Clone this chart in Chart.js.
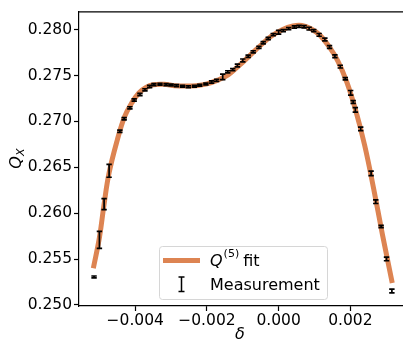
<!DOCTYPE html>
<html lang="en">
<head>
<meta charset="UTF-8">
<title>Q_X fit</title>
<script src="https://cdn.jsdelivr.net/npm/chart.js"></script>
<style>
  html, body { margin: 0; padding: 0; background: #fff; }
  #wrap { width: 403px; height: 344px; }
</style>
</head>
<body>
<div id="wrap"><canvas id="chart"></canvas></div>
<script>
// fit curve
const fitDelta = [-0.00517, -0.00500, -0.00487, -0.00473, -0.00450, -0.00430, -0.00410, -0.00390,
  -0.00370, -0.00350, -0.00320, -0.00290, -0.00260, -0.00230, -0.00200, -0.00170, -0.00140,
  -0.00110, -0.00080, -0.00050, -0.00020, 0.00010, 0.00040, 0.00065, 0.00090, 0.00115, 0.00140,
  0.00165, 0.00190, 0.00215, 0.00240, 0.00265, 0.00290, 0.00317];
const fitQ = [0.2540, 0.25735, 0.2610, 0.2644, 0.2680, 0.2705, 0.2720, 0.2731,
  0.2737, 0.2740, 0.27405, 0.2739, 0.27385, 0.2739, 0.2741, 0.2745, 0.2751,
  0.2761, 0.2772, 0.2783, 0.2793, 0.2800, 0.2804, 0.28045, 0.2801, 0.2794, 0.2782,
  0.2766, 0.2743, 0.2712, 0.2674, 0.2627, 0.2576, 0.2524];

// measurements with error bars
const measDelta = [-0.00515, -0.00500, -0.00487, -0.00473, -0.00443, -0.00431, -0.00415, -0.00403,
  -0.00387, -0.00373, -0.00360, -0.00348, -0.00331, -0.00314, -0.00300, -0.00285, -0.00268,
  -0.00252, -0.00235, -0.00220, -0.00203, -0.00187, -0.00173, -0.00156, -0.00142, -0.00128,
  -0.00115, -0.00100, -0.00085, -0.00071, -0.00055, -0.00043, -0.00029, -0.00015, 0.00000,
  0.00013, 0.00028, 0.00044, 0.00057, 0.00071, 0.00085, 0.00098, 0.00113, 0.00129, 0.00142,
  0.00157, 0.00172, 0.00186, 0.00201, 0.00208, 0.00214, 0.00229, 0.00258, 0.00271, 0.00286,
  0.00301, 0.00316];
const measQ = [0.25306, 0.25709, 0.26099, 0.26462, 0.26893, 0.27030, 0.27148, 0.27233,
  0.27293, 0.27344, 0.27380, 0.27401, 0.27405, 0.27401, 0.27397, 0.27390, 0.27383,
  0.27379, 0.27383, 0.27394, 0.27408, 0.27429, 0.27447, 0.27486, 0.27540, 0.27565,
  0.27610, 0.27665, 0.27711, 0.27758, 0.27807, 0.27858, 0.27904, 0.27946, 0.27972,
  0.27989, 0.28011, 0.28029, 0.28036, 0.28032, 0.28011, 0.27989, 0.27943, 0.27893, 0.27812,
  0.27711, 0.27597, 0.27465, 0.27312, 0.27212, 0.27126, 0.26919, 0.26434, 0.26126, 0.25855,
  0.25502, 0.25152];
const measErr = [0.00010, 0.00093, 0.00060, 0.00070, 0.00012, 0.00012, 0.00012, 0.00012,
  0.00012, 0.00012, 0.00012, 0.00010, 0.00010, 0.00010, 0.00010, 0.00010, 0.00010,
  0.00010, 0.00010, 0.00010, 0.00010, 0.00012, 0.00012, 0.00030, 0.00012, 0.00012,
  0.00015, 0.00015, 0.00012, 0.00012, 0.00012, 0.00012, 0.00012, 0.00012, 0.00020,
  0.00012, 0.00012, 0.00012, 0.00012, 0.00012, 0.00015, 0.00012, 0.00015, 0.00015, 0.00015,
  0.00015, 0.00015, 0.00012, 0.00025, 0.00015, 0.00025, 0.00020, 0.00025, 0.00020, 0.00012,
  0.00020, 0.00020];

const xTicks = [-0.004, -0.002, 0.000, 0.002];
const yTicks = [0.250, 0.255, 0.260, 0.265, 0.270, 0.275, 0.280];
const legendLabels = ['fit', 'Measurement'];

const FONT = '"DejaVu Sans", sans-serif';
const ORANGE = '#dd8452';
const fmt = v => v.toFixed(3).replace('-', '\u2212');

// error bars on top of the fit
const errorBars = {
  id: 'errorBars',
  afterDatasetsDraw(chart) {
    const { ctx, scales: { x, y } } = chart;
    ctx.save();
    ctx.strokeStyle = '#000';
    ctx.lineWidth = 1.7;
    measDelta.forEach((d, i) => {
      const px = x.getPixelForValue(d);
      const y1 = y.getPixelForValue(measQ[i] + measErr[i]);
      const y2 = y.getPixelForValue(measQ[i] - measErr[i]);
      ctx.beginPath();
      ctx.moveTo(px, y1); ctx.lineTo(px, y2);
      ctx.moveTo(px - 2.7, y1); ctx.lineTo(px + 2.7, y1);
      ctx.moveTo(px - 2.7, y2); ctx.lineTo(px + 2.7, y2);
      ctx.stroke();
    });
    ctx.restore();
  }
};

// top spine, axis titles and legend
const decor = {
  id: 'decor',
  afterDraw(chart) {
    const { ctx, chartArea: a } = chart;
    ctx.save();
    ctx.strokeStyle = '#000';
    ctx.lineWidth = 1.2;
    ctx.beginPath();
    ctx.moveTo(a.left, a.top + 0.5); ctx.lineTo(chart.width, a.top + 0.5);
    ctx.stroke();

    ctx.fillStyle = '#000';
    // x title
    ctx.font = 'italic 16px ' + FONT;
    ctx.textAlign = 'center';
    ctx.textBaseline = 'alphabetic';
    ctx.fillText('\u03b4', 240, 339);

    // y title Q_X
    ctx.save();
    ctx.translate(21, (a.top + a.bottom) / 2);
    ctx.rotate(-Math.PI / 2);
    ctx.textAlign = 'left';
    ctx.font = 'italic 16px ' + FONT;
    const qw = ctx.measureText('Q').width;
    ctx.font = 'italic 11px ' + FONT;
    const xw = ctx.measureText('X').width;
    const start = -(qw + xw) / 2;
    ctx.font = 'italic 16px ' + FONT;
    ctx.fillText('Q', start, 0);
    ctx.font = 'italic 11px ' + FONT;
    ctx.fillText('X', start + qw, 3);
    ctx.restore();

    // legend
    const lx = 159, ly = 246, lw = 168, lh = 53;
    ctx.beginPath();
    ctx.roundRect(lx + 0.5, ly + 0.5, lw, lh, 3);
    ctx.fillStyle = 'rgba(255,255,255,0.8)';
    ctx.fill();
    ctx.strokeStyle = '#d6d6d6';
    ctx.lineWidth = 1;
    ctx.stroke();

    ctx.strokeStyle = ORANGE;
    ctx.lineWidth = 5;
    ctx.beginPath();
    ctx.moveTo(163, 260.5); ctx.lineTo(200, 260.5);
    ctx.stroke();

    ctx.fillStyle = '#000';
    ctx.textAlign = 'left';
    ctx.font = 'italic 16px ' + FONT;
    ctx.fillText('Q', 210, 266);
    let tx = 210 + ctx.measureText('Q').width + 1;
    ctx.font = '11px ' + FONT;
    ctx.fillText('(5)', tx, 257);
    tx += ctx.measureText('(5)').width + 4;
    ctx.font = '16px ' + FONT;
    ctx.fillText(legendLabels[0], tx, 266);
    ctx.fillText(legendLabels[1], 210, 290);

    ctx.strokeStyle = '#000';
    ctx.lineWidth = 1.5;
    ctx.beginPath();
    ctx.moveTo(181.5, 277); ctx.lineTo(181.5, 291.5);
    ctx.moveTo(178.5, 277); ctx.lineTo(184.5, 277);
    ctx.moveTo(178.5, 291.5); ctx.lineTo(184.5, 291.5);
    ctx.stroke();
    ctx.restore();
  }
};

new Chart(document.getElementById('chart'), {
  type: 'scatter',
  data: {
    datasets: [{
      label: 'fit',
      data: fitDelta.map((d, i) => ({ x: d, y: fitQ[i] })),
      showLine: true,
      borderColor: ORANGE,
      borderWidth: 5,
      pointRadius: 0,
      tension: 0.4
    }, {
      label: 'Measurement',
      data: measDelta.map((d, i) => ({ x: d, y: measQ[i] })),
      pointRadius: 0
    }]
  },
  options: {
    responsive: true,
    maintainAspectRatio: false,
    animation: false,
    layout: { padding: { top: 7, left: 0, right: 0, bottom: 0 } },
    plugins: { legend: { display: false }, tooltip: { enabled: false } },
    scales: {
      x: {
        type: 'linear',
        min: -0.00557,
        max: 0.00347,
        afterBuildTicks: s => { s.ticks = xTicks.map(v => ({ value: v })); },
        afterFit: s => { s.height = 38; },
        grid: { drawOnChartArea: false, tickLength: 5, tickColor: '#000', tickWidth: 1.2 },
        border: { color: '#000', width: 1.2 },
        ticks: { color: '#000', font: { family: FONT, size: 15.5 }, padding: 1, maxRotation: 0, callback: v => fmt(v) }
      },
      y: {
        min: 0.24989,
        max: 0.28200,
        afterBuildTicks: s => { s.ticks = yTicks.map(v => ({ value: v })); },
        afterFit: s => { s.width = 79; },
        grid: { drawOnChartArea: false, tickLength: 5, tickColor: '#000', tickWidth: 1.2 },
        border: { color: '#000', width: 1.2 },
        ticks: { color: '#000', font: { family: FONT, size: 15.5 }, padding: 2, callback: v => fmt(v) }
      }
    }
  },
  plugins: [errorBars, decor]
});
</script>
</body>
</html>
